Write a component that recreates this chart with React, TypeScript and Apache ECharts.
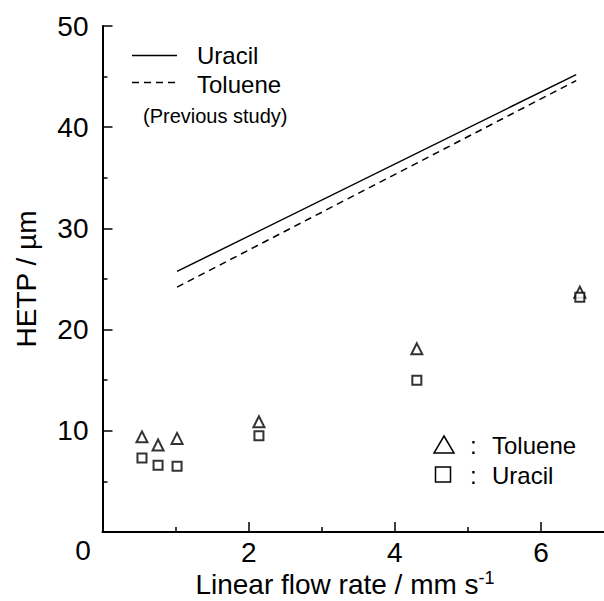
import React, { useEffect, useRef } from "react";
import * as echarts from "echarts";

// Linear flow rate (mm/s) of the measured points
const flowRate = [0.54, 0.76, 1.02, 2.14, 4.3, 6.53];
// HETP (µm) measured
const tolueneHETP = [9.4, 8.6, 9.25, 10.9, 18.1, 23.7];
const uracilHETP = [7.3, 6.6, 6.5, 9.5, 15.0, 23.2];
// Previous study lines
const prevFlowRate = [1.02, 6.48];
const prevUracilHETP = [25.75, 45.2];
const prevTolueneHETP = [24.2, 44.6];
// tick labels
const xTickLabels = [2, 4, 6];
const yTickLabels = [10, 20, 30, 40, 50];

const FONT = "'Liberation Sans', Arial, sans-serif";

export default function App() {
  const ref = useRef<HTMLDivElement>(null);
  useEffect(() => {
    if (!ref.current) return;
    const chart = echarts.init(ref.current, undefined, { renderer: "svg" });
    const pair = (xs: number[], ys: number[]) => xs.map((x, i) => [x, ys[i]]);
    const axisCommon = {
      axisLine: { show: true, lineStyle: { color: "#000", width: 2 } },
      axisTick: { show: true, inside: true, length: 10, lineStyle: { color: "#000", width: 1.5 } },
      minorTick: { show: true, splitNumber: 2, length: 5, lineStyle: { color: "#000", width: 1.5 } },
      splitLine: { show: false },
    };
    chart.setOption({
      animation: false,
      backgroundColor: "#fff",
      grid: { left: 102.5, top: 26, height: 506, width: 584.8, containLabel: false, outerBoundsMode: "none" },
      xAxis: {
        type: "value",
        min: 0,
        max: 8,
        interval: 2,
        ...axisCommon,
        axisLabel: {
          color: "#000",
          fontFamily: FONT,
          fontSize: 28,
          margin: 6,
          formatter: (v: number) => (xTickLabels.includes(v) ? String(v) : ""),
        },
      },
      yAxis: {
        type: "value",
        min: 0,
        max: 50,
        interval: 10,
        ...axisCommon,
        axisLabel: {
          color: "#000",
          fontFamily: FONT,
          fontSize: 28,
          margin: 14,
          formatter: (v: number) => (yTickLabels.includes(v) ? String(v) : ""),
        },
        name: "HETP / µm",
        nameLocation: "middle",
        nameRotate: 90,
        nameGap: 62,
        nameTextStyle: { color: "#000", fontFamily: FONT, fontSize: 28 },
      },
      graphic: [
        { type: "text", x: 83, y: 550, style: { text: "0", font: `28px ${FONT}`, fill: "#000", textAlign: "center", textVerticalAlign: "middle" } },
        {
          type: "text",
          x: 345,
          y: 584,
          style: {
            text: "Linear flow rate / mm s{sup|-1}",
            font: `28px ${FONT}`,
            fill: "#000",
            textAlign: "center",
            textVerticalAlign: "middle",
            rich: { sup: { fontSize: 18, fontFamily: FONT, fill: "#000", verticalAlign: "top", padding: [0, 0, 12, 0] } },
          },
        },
        { type: "line", shape: { x1: 132, y1: 55.5, x2: 177, y2: 55.5 }, style: { stroke: "#000", lineWidth: 1.5 } },
        { type: "line", shape: { x1: 132, y1: 82.5, x2: 177, y2: 82.5 }, style: { stroke: "#000", lineWidth: 1.5, lineDash: [7, 5] } },
        { type: "text", x: 197, y: 55, style: { text: "Uracil", font: `24px ${FONT}`, fill: "#000", textVerticalAlign: "middle" } },
        { type: "text", x: 197, y: 84, style: { text: "Toluene", font: `24px ${FONT}`, fill: "#000", textVerticalAlign: "middle" } },
        { type: "text", x: 143, y: 116, style: { text: "(Previous study)", font: `20px ${FONT}`, fill: "#000", textVerticalAlign: "middle" } },
        { type: "polygon", shape: { points: [[444, 436], [454, 453], [434, 453]] }, style: { fill: "#fff", stroke: "#000", lineWidth: 1.5 } },
        { type: "rect", shape: { x: 435.5, y: 467, width: 15, height: 15 }, style: { fill: "#fff", stroke: "#000", lineWidth: 1.5 } },
        { type: "text", x: 470, y: 445, style: { text: ":", font: `24px ${FONT}`, fill: "#000", textVerticalAlign: "middle" } },
        { type: "text", x: 470, y: 475, style: { text: ":", font: `24px ${FONT}`, fill: "#000", textVerticalAlign: "middle" } },
        { type: "text", x: 492, y: 445, style: { text: "Toluene", font: `24px ${FONT}`, fill: "#000", textVerticalAlign: "middle" } },
        { type: "text", x: 492, y: 475, style: { text: "Uracil", font: `24px ${FONT}`, fill: "#000", textVerticalAlign: "middle" } },
      ],
      series: [
        {
          name: "Uracil (previous study)",
          type: "line",
          data: pair(prevFlowRate, prevUracilHETP),
          showSymbol: false,
          symbol: "none",
          lineStyle: { color: "#000", width: 1.5, type: "solid" },
        },
        {
          name: "Toluene (previous study)",
          type: "line",
          data: pair(prevFlowRate, prevTolueneHETP),
          showSymbol: false,
          symbol: "none",
          lineStyle: { color: "#000", width: 1.5, type: [7, 5] },
        },
        {
          name: "Toluene",
          type: "scatter",
          data: pair(flowRate, tolueneHETP),
          symbol: "triangle",
          symbolSize: 11,
          itemStyle: { color: "#fff", borderColor: "#000", borderWidth: 2 },
        },
        {
          name: "Uracil",
          type: "scatter",
          data: pair(flowRate, uracilHETP),
          symbol: "rect",
          symbolSize: 9,
          itemStyle: { color: "#fff", borderColor: "#000", borderWidth: 2 },
        },
      ],
    });
    return () => chart.dispose();
  }, []);
  return (
    <div
      ref={ref}
      style={{ position: "fixed", left: 0, top: 0, width: 604, height: 601, background: "#fff" }}
    />
  );
}
